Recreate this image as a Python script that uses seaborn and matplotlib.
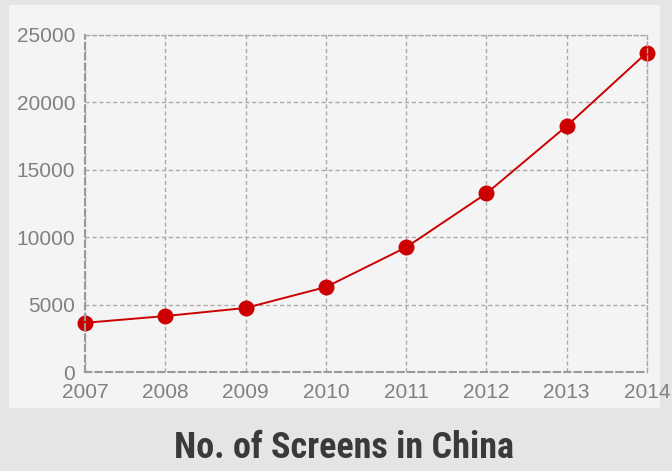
"""No. of Screens in China, 2007-2014."""

import matplotlib
matplotlib.use("Agg")
import matplotlib.pyplot as plt
from matplotlib.patches import Rectangle
import seaborn as sns
import pandas as pd

sns.set_theme(style="white")

years = [2007, 2008, 2009, 2010, 2011, 2012, 2013, 2014]
screens = [3650, 4150, 4750, 6300, 9250, 13250, 18250, 23700]
y_ticks = [0, 5000, 10000, 15000, 20000, 25000]

df = pd.DataFrame({"year": years, "screens": screens})

fig = plt.figure(figsize=(6.72, 4.71), dpi=100)
fig.patch.set_facecolor("#e5e5e3")
fig.patches.append(Rectangle((9 / 672, 1 - 408 / 471), 651 / 672, 403 / 471,
                             transform=fig.transFigure, facecolor="#f4f4f4",
                             edgecolor="none", zorder=-10))

ax = fig.add_axes([85 / 672, 1 - 372 / 471, 562 / 672, 337 / 471])
ax.set_facecolor("#f4f4f4")

sns.lineplot(data=df, x="year", y="screens", ax=ax, color="#cc0000",
             marker="o", markersize=11.5, markeredgewidth=0, linewidth=1.4)

ax.set_xlim(2007, 2014)
ax.set_ylim(0, 25000)
ax.set_xticks(years)
ax.set_yticks(y_ticks)
ax.set_xlabel("")
ax.set_ylabel("")
ax.grid(True, linestyle=(0, (3, 2)), color="#aaaaaa", linewidth=1)
for side, sp in ax.spines.items():
    sp.set_visible(True)
    sp.set_color("#999999" if side in ("left", "bottom") else "#aaaaaa")
    sp.set_linestyle((0, (3, 2)))
    sp.set_linewidth(1.5 if side in ("left", "bottom") else 1)
for line in ax.lines:
    line.set_clip_on(False)
ax.tick_params(axis="both", labelsize=15, labelcolor="#808080", length=0)
ax.tick_params(axis="y", pad=7)
ax.tick_params(axis="x", pad=8)
for lbl in ax.get_xticklabels() + ax.get_yticklabels():
    lbl.set_family(["Liberation Sans", "DejaVu Sans"])

fig.text(0.512, 1 - 448 / 471, "No. of Screens in China",
         ha="center", va="center", fontsize=26, fontweight="bold",
         color="#3a3a3a",
         family=["Roboto Condensed", "Liberation Sans Narrow", "DejaVu Sans"])

fig.savefig("out.png", dpi=100, facecolor=fig.get_facecolor())
